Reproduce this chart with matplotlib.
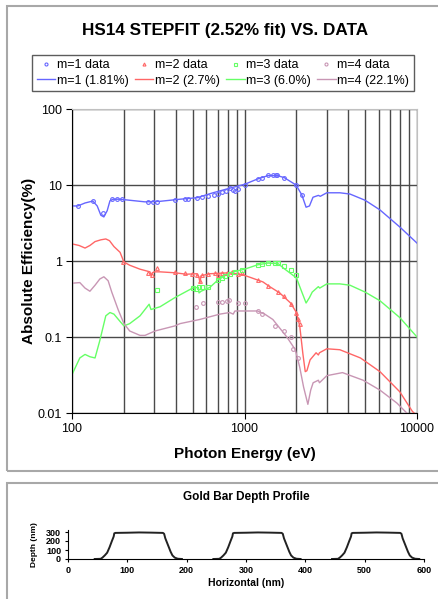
import matplotlib
matplotlib.use("Agg")
import matplotlib.pyplot as plt
from matplotlib.patches import Rectangle
from matplotlib.ticker import LogLocator, NullFormatter, FixedLocator

plt.rcParams["font.family"] = ["Liberation Sans", "DejaVu Sans"]

# ---- fitted efficiency curves (eV, %) ----
fit1_e = [100, 108, 119, 132, 140, 147, 153, 160, 166, 173, 190, 216, 265, 324, 423, 530, 657,
          824, 1000, 1190, 1368, 1550, 1700, 1990, 2150, 2275, 2380, 2495, 2680, 2750, 3000,
          3570, 4090, 5000, 6100, 7950, 10000]
fit1_v = [5.3, 5.3, 5.8, 6.15, 5.3, 4.0, 3.8, 4.6, 6.2, 6.5, 6.5, 6.3, 6.0, 6.1, 6.5, 6.8, 7.9,
          9.1, 10.2, 12.0, 13.3, 13.3, 12.5, 10.0, 7.4, 5.1, 5.3, 6.9, 7.3, 7.1, 7.9,
          7.9, 7.6, 6.3, 4.7, 2.8, 1.72]

fit2_e = [100, 110, 119, 127, 136, 147, 157, 165, 175, 190, 200, 216, 248, 283, 288, 292, 300,
          324, 395, 460, 530, 545, 552, 560, 630, 720, 820, 975, 1100, 1280, 1400, 1600, 1850,
          2000, 2090, 2180, 2250, 2300, 2400, 2600, 2680, 2720, 3000, 3570, 4700, 6100, 7950,
          9400, 10000]
fit2_v = [1.68, 1.6, 1.48, 1.6, 1.8, 1.9, 1.95, 1.85, 1.55, 1.3, 0.97, 0.88, 0.78, 0.72, 0.64,
          0.7, 0.72, 0.72, 0.7, 0.67, 0.68, 0.6, 0.52, 0.64, 0.68, 0.69, 0.7, 0.66, 0.6, 0.53,
          0.46, 0.38, 0.28, 0.21, 0.14, 0.06, 0.035, 0.036, 0.05, 0.062, 0.058, 0.062, 0.07,
          0.068, 0.053, 0.035, 0.019, 0.0105, 0.0092]

fit3_e = [100, 111, 119, 127, 136, 145, 157, 166, 175, 190, 200, 216, 248, 280, 287, 324, 395,
          500, 540, 545, 560, 630, 700, 820, 1000, 1190, 1370, 1570, 1690, 2000, 2150, 2275,
          2380, 2470, 2680, 2730, 3000, 3570, 4090, 5000, 6100, 7950, 10000]
fit3_v = [0.032, 0.053, 0.059, 0.055, 0.053, 0.09, 0.19, 0.21, 0.2, 0.16, 0.14, 0.15, 0.19,
          0.27, 0.23, 0.25, 0.33, 0.44, 0.45, 0.38, 0.4, 0.45, 0.56, 0.7, 0.78, 0.89, 0.94,
          0.92, 0.8, 0.6, 0.39, 0.28, 0.33, 0.39, 0.46, 0.44, 0.5, 0.5, 0.48, 0.39, 0.3, 0.18,
          0.1]

fit4_e = [100, 111, 119, 127, 136, 145, 153, 162, 170, 185, 200, 216, 248, 265, 303, 395, 423,
          550, 720, 820, 860, 880, 1000, 1190, 1310, 1460, 1760, 1970, 2090, 2200, 2330, 2420,
          2500, 2680, 2720, 3000, 3700, 4870, 6100, 7650, 8300, 8800, 9300]
fit4_v = [0.51, 0.52, 0.44, 0.4, 0.48, 0.58, 0.62, 0.55, 0.39, 0.23, 0.15, 0.12, 0.105, 0.105,
          0.12, 0.14, 0.15, 0.17, 0.2, 0.21, 0.2, 0.22, 0.22, 0.22, 0.2, 0.17, 0.1, 0.068,
          0.04, 0.022, 0.013, 0.02, 0.025, 0.027, 0.025, 0.031, 0.034, 0.027, 0.02, 0.0135,
          0.0112, 0.0098, 0.0088]

# ---- measured data ----
data1_e = [108, 132, 151, 170, 182, 195, 276, 295, 310, 395, 450, 470, 530, 565, 615, 670, 700,
           745, 780, 820, 855, 880, 920, 1000, 1190, 1260, 1370, 1460, 1520, 1550, 1690, 1990,
           2150]
data1_v = [5.3, 6.1, 4.3, 6.5, 6.5, 6.5, 6.0, 6.0, 6.0, 6.3, 6.5, 6.5, 6.7, 6.9, 7.1, 7.4, 7.7,
           8.0, 8.4, 9.0, 8.6, 8.3, 8.8, 10, 12, 12.5, 13.4, 13.5, 13.5, 13.4, 12.5, 10, 7.4]

data2_e = [197, 276, 290, 310, 395, 450, 495, 530, 550, 565, 615, 675, 700, 745, 790, 850, 920,
           965, 1190, 1370, 1570, 1690, 1860, 2000, 2040, 2090]
data2_v = [0.97, 0.7, 0.66, 0.8, 0.72, 0.7, 0.68, 0.65, 0.55, 0.66, 0.67, 0.7, 0.66, 0.7, 0.7,
           0.72, 0.68, 0.7, 0.57, 0.47, 0.39, 0.35, 0.27, 0.21, 0.17, 0.15]

data3_e = [310, 500, 520, 545, 570, 615, 700, 745, 770, 820, 880, 965, 1190, 1260, 1370, 1500,
           1570, 1690, 1850, 2000]
data3_v = [0.42, 0.44, 0.43, 0.45, 0.45, 0.45, 0.56, 0.6, 0.63, 0.67, 0.72, 0.76, 0.88, 0.92,
           0.95, 0.93, 0.93, 0.85, 0.75, 0.65]

data4_e = [520, 575, 700, 745, 790, 810, 920, 1000, 1190, 1260, 1500, 1690, 1850, 1900, 2040]
data4_v = [0.25, 0.28, 0.29, 0.29, 0.3, 0.31, 0.28, 0.28, 0.22, 0.2, 0.14, 0.12, 0.1, 0.069,
           0.053]

# ---- gold bar depth profile (one bar, repeated every 200 nm) ----
bar_x = [45, 55, 58, 62, 66, 70, 74, 77, 78, 80, 100, 120, 140, 160, 162, 164, 167, 170, 173,
         176, 180, 185, 192]
bar_depth = [0, 2, 15, 40, 70, 130, 200, 250, 285, 290, 292, 295, 293, 290, 280, 230, 180, 130,
             80, 40, 15, 3, 0]
bar_offsets = [0, 200, 400]

BLUE, RED, GREEN, PURPLE = "#6666ff", "#ff6666", "#66ff66", "#c896b4"

fig = plt.figure(figsize=(4.38, 5.99), dpi=100)

# panel frames
fig.patches.append(Rectangle((7 / 438, 1 - 471 / 599), 1, 465 / 599, transform=fig.transFigure,
                             fill=False, edgecolor="#a8a8a8", linewidth=1.5))
fig.patches.append(Rectangle((7 / 438, -0.01), 1, 1 - 483 / 599 + 0.01, transform=fig.transFigure,
                             fill=False, edgecolor="#a8a8a8", linewidth=1.5))

ax = fig.add_axes([72 / 438, 1 - 413 / 599, 345 / 438, 304 / 599])
ax.set_xscale("log")
ax.set_yscale("log")
ax.set_xlim(100, 10000)
ax.set_ylim(0.01, 100)

ax.xaxis.set_minor_locator(LogLocator(base=10, subs=range(2, 10)))
ax.xaxis.set_minor_formatter(NullFormatter())
ax.yaxis.set_minor_locator(FixedLocator([]))
ax.grid(True, which="major", color="#4a4a4a", linewidth=1.0)
ax.grid(True, which="minor", axis="x", color="#4a4a4a", linewidth=1.0)
ax.set_yticks([0.01, 0.1, 1, 10, 100])
ax.set_yticklabels(["0.01", "0.1", "1", "10", "100"])
ax.set_xticks([100, 1000, 10000])
ax.set_xticklabels(["100", "1000", "10000"])
ax.tick_params(which="major", labelsize=9, length=4, direction="out", color="black")
ax.tick_params(which="minor", length=0)
for side in ("top", "right"):
    ax.spines[side].set_color("#c0c0c0")
for side in ("left", "bottom"):
    ax.spines[side].set_color("black")

lw = 1.0
f1, = ax.plot(fit1_e, fit1_v, color=BLUE, lw=lw, label="m=1 (1.81%)")
f2, = ax.plot(fit2_e, fit2_v, color=RED, lw=lw, label="m=2 (2.7%)")
f3, = ax.plot(fit3_e, fit3_v, color=GREEN, lw=lw, label="m=3 (6.0%)")
f4, = ax.plot(fit4_e, fit4_v, color=PURPLE, lw=lw, label="m=4 (22.1%)")
ms = 2.7
d1, = ax.plot(data1_e, data1_v, "o", ms=ms, mfc="none", mec=BLUE, mew=0.8, label="m=1 data")
d2, = ax.plot(data2_e, data2_v, "^", ms=ms, mfc="none", mec=RED, mew=0.8, label="m=2 data")
d3, = ax.plot(data3_e, data3_v, "s", ms=ms, mfc="none", mec=GREEN, mew=0.8, label="m=3 data")
d4, = ax.plot(data4_e, data4_v, "o", ms=ms, mfc="none", mec=PURPLE, mew=0.8, label="m=4 data")

ax.set_xlabel("Photon Energy (eV)", fontsize=11, fontweight="bold", labelpad=8)
ax.set_ylabel("Absolute Efficiency(%)", fontsize=11, fontweight="bold", labelpad=1)

fig.text(0.514, 1 - 31 / 599, "HS14 STEPFIT (2.52% fit) VS. DATA", ha="center", va="center",
         fontsize=12.3, fontweight="bold")

handles = [d1, f1, d2, f2, d3, f3, d4, f4]
leg = fig.legend(handles, [h.get_label() for h in handles],
                 ncol=4, loc="center", bbox_to_anchor=(223 / 438, 1 - 73 / 599),
                 fontsize=9, frameon=True, fancybox=False, edgecolor="#333333",
                 handlelength=1.5, handletextpad=0.15, columnspacing=0.45, labelspacing=0.25,
                 borderpad=0.35, markerscale=0.8)
leg.get_frame().set_linewidth(1.0)

# ---- depth profile panel ----
ax2 = fig.add_axes([68 / 438, 1 - 559 / 599, 356 / 438, 28.8 / 599])
for off in bar_offsets:
    ax2.plot([x + off for x in bar_x], bar_depth, color="#222222", lw=1.4)
ax2.set_xlim(0, 600)
ax2.set_ylim(0, 320)
ax2.set_xticks([0, 100, 200, 300, 400, 500, 600])
ax2.set_yticks([0, 100, 200, 300])
ax2.tick_params(labelsize=6.5, length=2, pad=3)
for lab in ax2.get_xticklabels() + ax2.get_yticklabels():
    lab.set_fontweight("bold")
ax2.spines["top"].set_visible(False)
ax2.spines["right"].set_visible(False)
ax2.set_xlabel("Horizontal (nm)", fontsize=7.5, fontweight="bold", labelpad=2)
ax2.set_ylabel("Depth (nm)", fontsize=6, fontweight="bold", labelpad=6)
ax2.set_title("Gold Bar Depth Profile", fontsize=8.5, fontweight="bold", pad=22)

fig.savefig("out.png", dpi=100)
